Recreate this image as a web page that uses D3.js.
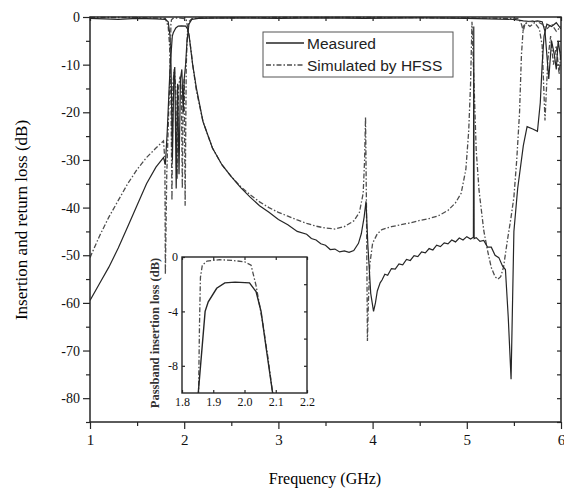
<!DOCTYPE html>
<html>
<head>
<meta charset="utf-8">
<script src="https://cdn.jsdelivr.net/npm/d3@7"></script>
<style>
  body { margin: 0; background: #fff; }
  svg { display: block; }
</style>
</head>
<body>
<div id="chart"></div>
<script>
// frequencies in GHz, levels in dB
const measuredS21 = [
  [1.0,-59.5],[1.1,-56],[1.2,-52.5],[1.3,-48.5],[1.4,-44],[1.5,-39.5],[1.6,-35],[1.7,-31.5],
  [1.78,-29.5],[1.8,-31],[1.82,-24],[1.84,-15],[1.852,-10],[1.874,-4],[1.884,-3.3],[1.911,-2.3],
  [1.937,-1.9],[1.97,-1.85],[2.016,-1.9],[2.037,-2.55],[2.053,-4],[2.07,-6.8],[2.09,-10],
  [2.13,-15],[2.2,-22],[2.3,-27.5],[2.4,-31],[2.5,-33.5],[2.6,-35.8],[2.7,-37.8],[2.8,-39.6],
  [2.9,-41],[3.0,-42.5],[3.1,-43.6],[3.2,-45],[3.3,-45.6],[3.35,-46.5],[3.4,-46.8],[3.45,-47.6],
  [3.5,-47.9],[3.55,-48.8],[3.6,-48.7],[3.65,-49.3],[3.7,-49.1],[3.75,-49.4],[3.8,-49],[3.85,-47.5],
  [3.88,-45.5],[3.91,-42],[3.93,-38.7],[3.95,-48],[3.98,-58],[4.01,-61.8],[4.03,-60],
  [4.05,-57.5],[4.08,-55.8],[4.1,-55.2],[4.13,-54],[4.16,-54.2],[4.2,-52.8],[4.24,-52.9],
  [4.28,-51.8],[4.32,-52],[4.36,-50.9],[4.4,-51.1],[4.44,-50.1],[4.48,-50.3],[4.52,-49.3],
  [4.56,-49.5],[4.6,-48.6],[4.64,-48.9],[4.68,-47.9],[4.72,-48.2],[4.76,-47.4],[4.8,-47.6],
  [4.84,-46.8],[4.88,-47.2],[4.92,-46.4],[4.96,-46.8],[5.0,-46.1],[5.04,-46.6],[5.07,-46.2],
  [5.074,-2],[5.078,-46.5],[5.1,-46.3],[5.14,-47.1],[5.18,-46.9],[5.22,-48.3],[5.26,-48.3],
  [5.3,-50],[5.34,-50.5],[5.38,-52.3],[5.41,-53],[5.44,-63],[5.47,-76],[5.5,-45],[5.54,-36],
  [5.6,-27],[5.64,-23],[5.7,-23.5],[5.75,-24],[5.78,-18],[5.8,-10],[5.82,-4],[5.85,-1.5],
  [5.9,-2],[5.95,-1.2],[6.0,-2.5]
];

const simulatedS21 = [
  [1.0,-50.5],[1.1,-46],[1.2,-42],[1.3,-38.5],[1.4,-35],[1.5,-32],[1.6,-29.5],[1.7,-27.5],
  [1.78,-26],[1.795,-30],[1.8,-54],[1.815,-33],[1.835,-20],[1.848,-13],[1.853,-10],
  [1.856,-5],[1.859,-1.5],[1.865,-0.6],[1.88,-0.3],[1.92,-0.2],[1.96,-0.25],[2.0,-0.35],
  [2.021,-0.6],[2.037,-2.1],[2.058,-4.8],[2.075,-7.4],[2.09,-10],[2.13,-15.5],[2.2,-22],
  [2.3,-27.5],[2.4,-31],[2.5,-33.5],[2.6,-35.6],[2.7,-37.3],[2.8,-38.8],[2.9,-40],[3.0,-41],
  [3.1,-41.8],[3.2,-42.6],[3.3,-43.3],[3.4,-43.9],[3.5,-44.3],[3.6,-44.5],[3.7,-44],
  [3.8,-42.8],[3.86,-41],[3.9,-37],[3.915,-30],[3.925,-21],[3.935,-40],[3.945,-68],
  [3.955,-60],[3.97,-52],[4.0,-47.5],[4.05,-45.5],[4.1,-44.6],[4.2,-44],[4.3,-43.6],
  [4.4,-43.2],[4.5,-42.7],[4.6,-42.3],[4.7,-41.7],[4.8,-40.6],[4.88,-39],[4.94,-37],
  [4.99,-32],[5.02,-24],[5.04,-14],[5.055,-1],[5.07,-10],[5.1,-28],[5.13,-36.4],[5.18,-44.8],
  [5.22,-49],[5.26,-52.6],[5.3,-54.5],[5.33,-55],[5.36,-54.5],[5.39,-52.5],[5.43,-47],
  [5.47,-42],[5.5,-37.8],[5.53,-30],[5.56,-20],[5.58,-8],[5.6,-2],[5.62,-1.5],[5.65,-1],
  [5.7,-0.8],[5.75,-1],[5.8,-1.5],[5.85,-2.5],[5.9,-1.5],[5.95,-3],[6.0,-2]
];

const measuredS11 = [
  [1.0,-0.3],[1.3,-0.5],[1.5,-0.3],[1.7,-0.4],[1.8,-0.5],[1.83,-1],[1.85,-4],[1.86,-10],
  [1.875,-30],[1.89,-12],[1.9,-10.5],[1.915,-36],[1.93,-14],[1.945,-33],[1.96,-13],
  [1.975,-11],[1.99,-20],[2.0,-13],[2.015,-10],[2.03,-5],[2.05,-1.5],[2.08,-0.5],[2.15,-0.3],
  [2.5,-0.2],[3.0,-0.3],[3.5,-0.2],[3.9,-0.3],[4.5,-0.2],[5.0,-0.3],[5.5,-0.5],[5.6,-0.8],
  [5.7,-1],[5.75,-0.8],[5.8,-1],[5.83,-3],[5.85,-8],[5.87,-13],[5.9,-5],[5.93,-8],
  [5.95,-11],[5.97,-5],[6.0,-9]
];

const simulatedS11 = [
  [1.0,-0.1],[1.5,-0.1],[1.8,-0.3],[1.83,-2],[1.845,-6],[1.86,-18],[1.87,-38.5],[1.88,-14],
  [1.895,-11],[1.91,-15],[1.925,-34],[1.94,-15],[1.955,-12.5],[1.97,-16],[1.98,-36],
  [1.99,-15],[2.0,-13],[2.01,-39.6],[2.022,-10],[2.035,-3],[2.05,-1],[2.08,-0.4],[2.15,-0.2],
  [3.0,-0.1],[4.0,-0.1],[5.0,-0.2],[5.55,-0.3],[5.58,-1.5],[5.6,-3],[5.62,-1.2],[5.67,-2],
  [5.72,-1.2],[5.77,-2.5],[5.8,-6],[5.83,-21.7],[5.86,-9],[5.89,-4],[5.92,-10],[5.95,-6],
  [5.98,-12],[6.0,-7]
];

const xTicks = [1, 2, 3, 4, 5, 6];
const yTicks = [0, -10, -20, -30, -40, -50, -60, -70, -80];
const insetXTicks = [1.8, 1.9, 2.0, 2.1, 2.2];
const insetYTicks = [0, -4, -8];
const legendLabels = ["Measured", "Simulated by HFSS"];

const width = 564, height = 492;
const plot = {left: 90, right: 561, top: 17, bottom: 422};
const box = {left: 182, right: 307, top: 257, bottom: 393};
const ink = "#262626";
const dashDot = "5,2,1.5,2";

const svg = d3.select("#chart")
    .append("svg")
    .attr("width", width)
    .attr("height", height)
    .style("font-family", "'Liberation Serif', 'Times New Roman', serif");

let xScale = d3.scaleLinear().domain([1, 6]).range([plot.left, plot.right]);
let yScale = d3.scaleLinear().domain([-85, 0]).range([plot.bottom, plot.top]);

svg.append("clipPath").attr("id", "clip-main")
    .append("rect")
    .attr("x", plot.left).attr("y", plot.top - 1)
    .attr("width", plot.right - plot.left).attr("height", plot.bottom - plot.top + 1);

// minor + major ticks, outward on left/bottom, inward on right/top
const minorY = d3.range(-5, -86, -10);
const minorX = d3.range(1.5, 6, 1);
const plain = (d) => String(d);   // keep the hyphen minus of the original

function styleAxis(g) {
    g.select(".domain").remove();
    g.selectAll("line").attr("stroke", ink).attr("stroke-width", 1.2);
    g.selectAll("text").attr("fill", "#111");
}

svg.append("g")
    .attr("transform", `translate(${plot.left},0)`)
    .call(d3.axisLeft(yScale).tickValues(yTicks).tickSize(7).tickPadding(3).tickFormat(plain))
    .attr("font-size", "14px")
    .attr("font-family", null)
    .call(styleAxis);
svg.append("g")
    .attr("transform", `translate(${plot.left},0)`)
    .call(d3.axisLeft(yScale).tickValues(minorY).tickSize(4).tickFormat(""))
    .call(styleAxis);
svg.append("g")
    .attr("transform", `translate(${plot.right},0)`)
    .call(d3.axisLeft(yScale).tickValues(yTicks.concat(minorY)).tickSize(4).tickFormat(""))
    .call(styleAxis);

svg.append("g")
    .attr("transform", `translate(0,${plot.bottom})`)
    .call(d3.axisBottom(xScale).tickValues(xTicks).tickSize(7).tickPadding(5).tickFormat(plain))
    .attr("font-size", "15px")
    .attr("font-family", null)
    .call(styleAxis);
svg.append("g")
    .attr("transform", `translate(0,${plot.bottom})`)
    .call(d3.axisBottom(xScale).tickValues(minorX).tickSize(4).tickFormat(""))
    .call(styleAxis);
svg.append("g")
    .attr("transform", `translate(0,${plot.top})`)
    .call(d3.axisBottom(xScale).tickValues(xTicks.concat(minorX)).tickSize(4).tickFormat(""))
    .call(styleAxis);

const line = d3.line()
    .x((d) => xScale(d[0]))
    .y((d) => yScale(d[1]));

const curves = svg.append("g").attr("clip-path", "url(#clip-main)");

[[simulatedS11, true], [measuredS11, false], [simulatedS21, true], [measuredS21, false]]
    .forEach(([data, dashed]) => {
        curves.append("path")
            .datum(data)
            .attr("d", line)
            .attr("fill", "none")
            .attr("stroke", dashed ? "#4d4d4d" : ink)
            .attr("stroke-width", dashed ? 1.3 : 1.2)
            .attr("stroke-dasharray", dashed ? dashDot : null);
    });

svg.append("rect")
    .attr("x", plot.left).attr("y", plot.top)
    .attr("width", plot.right - plot.left).attr("height", plot.bottom - plot.top)
    .attr("fill", "none").attr("stroke", ink).attr("stroke-width", 1.5);

// axis titles
svg.append("text")
    .attr("x", 325).attr("y", 484)
    .attr("text-anchor", "middle")
    .attr("font-size", "16px")
    .text("Frequency (GHz)");

svg.append("text")
    .attr("transform", "translate(27,220) rotate(-90)")
    .attr("text-anchor", "middle")
    .attr("font-size", "17px")
    .text("Insertion and return loss (dB)");

// legend
const legend = svg.append("g");
legend.append("rect")
    .attr("x", 263).attr("y", 32).attr("width", 190).attr("height", 45)
    .attr("fill", "#fff").attr("stroke", "#555").attr("stroke-width", 1);
legendLabels.forEach((label, i) => {
    let ly = 43 + i * 22;
    legend.append("line")
        .attr("x1", 266).attr("x2", 304).attr("y1", ly).attr("y2", ly)
        .attr("stroke", i ? "#4d4d4d" : ink)
        .attr("stroke-width", 1.3)
        .attr("stroke-dasharray", i ? dashDot : null);
    legend.append("text")
        .attr("x", 307).attr("y", ly + 5.5)
        .attr("font-family", "'Liberation Sans', Arial, sans-serif")
        .attr("font-size", "15.5px")
        .attr("fill", "#222")
        .text(label);
});

// inset: passband insertion loss
let xIn = d3.scaleLinear().domain([1.8, 2.2]).range([box.left, box.right]);
let yIn = d3.scaleLinear().domain([-10, 0]).range([box.bottom, box.top]);

svg.append("rect")
    .attr("x", box.left).attr("y", box.top)
    .attr("width", box.right - box.left).attr("height", box.bottom - box.top)
    .attr("fill", "#fff");

svg.append("clipPath").attr("id", "clip-inset")
    .append("rect")
    .attr("x", box.left).attr("y", box.top)
    .attr("width", box.right - box.left).attr("height", box.bottom - box.top);

const insetLine = d3.line()
    .x((d) => xIn(d[0]))
    .y((d) => yIn(d[1]));

const insetCurves = svg.append("g").attr("clip-path", "url(#clip-inset)");
[[simulatedS21, true], [measuredS21, false]].forEach(([data, dashed]) => {
    insetCurves.append("path")
        .datum(data.filter((d) => d[0] >= 1.75 && d[0] <= 2.25))
        .attr("d", insetLine)
        .attr("fill", "none")
        .attr("stroke", dashed ? "#4d4d4d" : ink)
        .attr("stroke-width", dashed ? 1.3 : 1.4)
        .attr("stroke-dasharray", dashed ? dashDot : null);
});

svg.append("g")
    .attr("transform", `translate(${box.left},0)`)
    .call(d3.axisRight(yIn).tickValues(insetYTicks).tickSize(3).tickFormat(""))
    .call(styleAxis);
svg.append("g")
    .attr("transform", `translate(${box.left},0)`)
    .call(d3.axisLeft(yIn).tickValues(insetYTicks).tickSize(0).tickPadding(4).tickFormat(plain))
    .attr("font-size", "12px")
    .attr("font-family", null)
    .call(styleAxis);
svg.append("g")
    .attr("transform", `translate(${box.right},0)`)
    .call(d3.axisLeft(yIn).tickValues([-2, -4, -6, -8]).tickSize(3).tickFormat(""))
    .call(styleAxis);
svg.append("g")
    .attr("transform", `translate(0,${box.bottom})`)
    .call(d3.axisTop(xIn).tickValues(insetXTicks).tickSize(3).tickFormat(""))
    .call(styleAxis);
svg.append("g")
    .attr("transform", `translate(0,${box.bottom})`)
    .call(d3.axisBottom(xIn).tickValues(insetXTicks).tickSize(0).tickPadding(4).tickFormat(d3.format(".1f")))
    .attr("font-size", "12px")
    .attr("font-family", null)
    .call(styleAxis);
svg.append("g")
    .attr("transform", `translate(0,${box.top})`)
    .call(d3.axisBottom(xIn).tickValues(insetXTicks).tickSize(3).tickFormat(""))
    .call(styleAxis);

svg.append("rect")
    .attr("x", box.left).attr("y", box.top)
    .attr("width", box.right - box.left).attr("height", box.bottom - box.top)
    .attr("fill", "none").attr("stroke", ink).attr("stroke-width", 1.4);

svg.append("text")
    .attr("transform", "translate(159,333) rotate(-90)")
    .attr("text-anchor", "middle")
    .attr("font-size", "12.5px")
    .attr("font-weight", "bold")
    .attr("fill", "#333")
    .text("Passband insertion loss (dB)");
</script>
</body>
</html>
